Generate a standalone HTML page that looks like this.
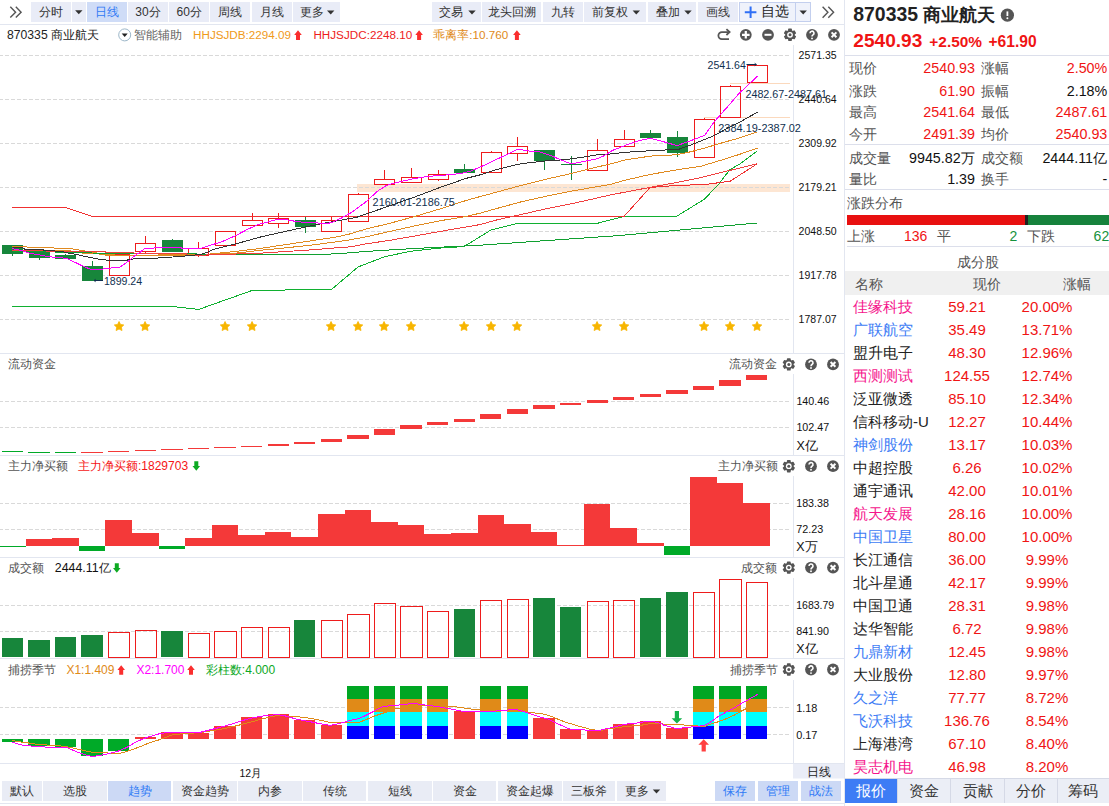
<!DOCTYPE html><html><head><meta charset="utf-8"><title>870335</title><style>
*{margin:0;padding:0;box-sizing:border-box}
html,body{width:1109px;height:806px;overflow:hidden;background:#fff}
body{position:relative;font-family:"Liberation Sans",sans-serif;color:#222}
svg text{font-family:"Liberation Sans",sans-serif}
.a{position:absolute;white-space:nowrap}
.b{position:absolute;top:2px;height:20px;line-height:20px;font-size:12px;background:#e9ecf7;color:#333;text-align:center;white-space:nowrap}
.b.s{background:#cfdcf7;color:#2f7af5}
.t{position:absolute;top:781px;height:20px;line-height:20px;font-size:12px;background:#e9ecf5;color:#333;text-align:center;white-space:nowrap}
.t.s{background:#ccd9f5;color:#2f7af5}
.r2{position:absolute;top:27px;height:16px;line-height:16px;font-size:12px;white-space:nowrap}
.pt{position:absolute;height:16px;line-height:16px;font-size:12px;color:#555;white-space:nowrap}
#rp{position:absolute;left:845px;top:0;width:264px;height:806px;overflow:hidden;background:#fff}
.k{position:absolute;font-size:14px;height:22px;line-height:22px;color:#555;white-space:nowrap}
.v{position:absolute;font-size:14.3px;height:22px;line-height:22px;text-align:right;white-space:nowrap;color:#f01414}
.row{position:absolute;left:0;width:264px;height:23px;line-height:23px;font-size:15px;white-space:nowrap}
.row>span{position:absolute;top:0}
.n{left:8px}.p{left:82px;width:80px;text-align:center;color:#f01414}.c{left:162px;width:80px;text-align:center;color:#f01414}
.pk{color:#f5148c}.bl{color:#3d7cf5}.bk{color:#222}
.bt{position:absolute;top:779px;height:24px;line-height:24px;font-size:15px;text-align:center;background:#ebeef6;color:#333;border-left:1px solid #d5d9e6}
</style></head><body>
<div class="b " style="left:31px;width:40px">分时</div>
<div class="b " style="left:72px;width:14px"></div>
<div class="b s" style="left:87px;width:40px">日线</div>
<div class="b " style="left:128px;width:40px">30分</div>
<div class="b " style="left:169.3px;width:40px">60分</div>
<div class="b " style="left:210.4px;width:40px">周线</div>
<div class="b " style="left:251.5px;width:40px">月线</div>
<div class="b " style="left:292.6px;width:47px"><span style="position:absolute;left:7.2px">更多</span></div>
<div class="b" style="left:431.6px;width:49.3px"><span style="position:absolute;left:7px">交易</span></div>
<div class="b" style="left:482px;width:59.4px">龙头回溯</div>
<div class="b" style="left:543.3px;width:39.6px">九转</div>
<div class="b" style="left:584.4px;width:61.6px"><span style="position:absolute;left:8px">前复权</span></div>
<div class="b" style="left:647.6px;width:48.9px"><span style="position:absolute;left:8.2px">叠加</span></div>
<div class="b" style="left:698px;width:40px">画线</div>
<div class="b" style="left:739px;width:56.5px;background:#eff2fb;border:1px solid #c3cfee;line-height:18px;font-size:13.5px;padding-left:16px;color:#222">自选</div>
<div class="b" style="left:795.5px;width:15.5px;background:#eff2fb;border:1px solid #c3cfee;border-left:none"></div>
<div class="r2" style="left:7px;color:#222"><span style="font-size:12.2px">870335</span></div>
<div class="r2" style="left:51.4px;color:#222">商业航天</div>
<div class="r2" style="left:134px;color:#666">智能辅助</div>
<div class="r2" style="left:193px;color:#f09a1a;font-size:11.7px">HHJSJDB:2294.09</div>
<div class="r2" style="left:313.4px;color:#ee1c1c;font-size:11.7px">HHJSJDC:2248.10</div>
<div class="r2" style="left:433.3px;color:#e08a18;font-size:11.7px"><span style="font-size:12px"><span style="display:inline-block;width:3em">乖离率</span></span>:10.760</div>
<div class="pt" style="left:8px;top:356px">流动资金</div>
<div class="pt" style="left:729px;top:356px">流动资金</div>
<div class="pt" style="left:8px;top:458px">主力净买额</div>
<div class="pt" style="left:78px;top:458px;color:#f51515"><span style="display:inline-block;width:5em">主力净买额</span>:1829703</div>
<div class="pt" style="left:717.5px;top:458px">主力净买额</div>
<div class="pt" style="left:8px;top:560px">成交额</div>
<div class="pt" style="left:54.8px;top:560px;color:#111;font-size:12.4px">2444.11<span style="display:inline-block;width:1em">亿</span></div>
<div class="pt" style="left:741px;top:560px">成交额</div>
<div class="pt" style="left:8px;top:662px">捕捞季节</div>
<div class="pt" style="left:66.4px;top:662px;color:#e08a18">X1:1.409</div>
<div class="pt" style="left:136.4px;top:662px;color:#ff00ff">X2:1.700</div>
<div class="pt" style="left:205.8px;top:662px;color:#0da825"><span style="display:inline-block;width:3em">彩柱数</span>:4.000</div>
<div class="pt" style="left:729.5px;top:662px">捕捞季节</div>
<div class="t " style="left:2px;width:40px">默认</div>
<div class="t " style="left:43.4px;width:63.4px">选股</div>
<div class="t s" style="left:107.8px;width:63.6px">趋势</div>
<div class="t " style="left:172.5px;width:64px">资金趋势</div>
<div class="t " style="left:238px;width:63.7px">内参</div>
<div class="t " style="left:303.2px;width:63.2px">传统</div>
<div class="t " style="left:367.6px;width:64px">短线</div>
<div class="t " style="left:433.2px;width:63.2px">资金</div>
<div class="t " style="left:497.5px;width:64px">资金起爆</div>
<div class="t " style="left:563px;width:52px">三板斧</div>
<div class="t " style="left:616.6px;width:49.6px"><span style="position:absolute;left:8px">更多</span></div>
<div class="t s" style="left:715.2px;width:39.6px">保存</div>
<div class="t s" style="left:758px;width:39.8px">管理</div>
<div class="t s" style="left:801px;width:40px">战法</div>
<svg class="a" style="left:0;top:0" width="845" height="806" viewBox="0 0 845 806"><line x1="0" y1="24.5" x2="845" y2="24.5" stroke="#e2e6f0" stroke-width="1" shape-rendering="crispEdges"/>
<line x1="844.5" y1="0" x2="844.5" y2="806" stroke="#e2e6f0" stroke-width="1" shape-rendering="crispEdges"/>
<line x1="793.5" y1="45" x2="793.5" y2="353" stroke="#e2e6f0" stroke-width="1" shape-rendering="crispEdges"/>
<line x1="793.5" y1="374" x2="793.5" y2="455" stroke="#e2e6f0" stroke-width="1" shape-rendering="crispEdges"/>
<line x1="793.5" y1="476" x2="793.5" y2="557" stroke="#e2e6f0" stroke-width="1" shape-rendering="crispEdges"/>
<line x1="793.5" y1="578" x2="793.5" y2="658" stroke="#e2e6f0" stroke-width="1" shape-rendering="crispEdges"/>
<line x1="793.5" y1="680" x2="793.5" y2="763" stroke="#e2e6f0" stroke-width="1" shape-rendering="crispEdges"/>
<line x1="0" y1="353.5" x2="845" y2="353.5" stroke="#e2e6f0" stroke-width="1" shape-rendering="crispEdges"/>
<line x1="0" y1="455.5" x2="845" y2="455.5" stroke="#e2e6f0" stroke-width="1" shape-rendering="crispEdges"/>
<line x1="0" y1="557.5" x2="845" y2="557.5" stroke="#e2e6f0" stroke-width="1" shape-rendering="crispEdges"/>
<line x1="0" y1="658.5" x2="845" y2="658.5" stroke="#e2e6f0" stroke-width="1" shape-rendering="crispEdges"/>
<line x1="0" y1="763.5" x2="845" y2="763.5" stroke="#e2e6f0" stroke-width="1" shape-rendering="crispEdges"/>
<line x1="0" y1="803.5" x2="845" y2="803.5" stroke="#e2e6f0" stroke-width="1" shape-rendering="crispEdges"/>
<rect x="357" y="184" width="433" height="8" fill="#fde6d3"/>
<line x1="0" y1="55.5" x2="789" y2="55.5" stroke="#d9d9d9" stroke-width="1" stroke-dasharray="4 2" stroke-dashoffset="1" shape-rendering="crispEdges"/>
<line x1="0" y1="99.5" x2="789" y2="99.5" stroke="#d9d9d9" stroke-width="1" stroke-dasharray="4 2" stroke-dashoffset="1" shape-rendering="crispEdges"/>
<line x1="0" y1="143.5" x2="789" y2="143.5" stroke="#d9d9d9" stroke-width="1" stroke-dasharray="4 2" stroke-dashoffset="1" shape-rendering="crispEdges"/>
<line x1="0" y1="187.5" x2="789" y2="187.5" stroke="#d9d9d9" stroke-width="1" stroke-dasharray="4 2" stroke-dashoffset="1" shape-rendering="crispEdges"/>
<line x1="0" y1="231.5" x2="789" y2="231.5" stroke="#d9d9d9" stroke-width="1" stroke-dasharray="4 2" stroke-dashoffset="1" shape-rendering="crispEdges"/>
<line x1="0" y1="275.5" x2="789" y2="275.5" stroke="#d9d9d9" stroke-width="1" stroke-dasharray="4 2" stroke-dashoffset="1" shape-rendering="crispEdges"/>
<line x1="0" y1="319.5" x2="789" y2="319.5" stroke="#d9d9d9" stroke-width="1" stroke-dasharray="4 2" stroke-dashoffset="1" shape-rendering="crispEdges"/>
<line x1="730" y1="83.5" x2="790" y2="83.5" stroke="#fbd9bd" stroke-width="1" shape-rendering="crispEdges"/>
<line x1="704" y1="117.5" x2="790" y2="117.5" stroke="#fbd9bd" stroke-width="1" shape-rendering="crispEdges"/>
<rect x="2" y="245" width="21" height="9" fill="#17863b" shape-rendering="crispEdges"/>
<line x1="12.5" y1="254" x2="12.5" y2="256" stroke="#17863b" stroke-width="1" shape-rendering="crispEdges"/>
<rect x="29" y="252" width="21" height="6" fill="#17863b" shape-rendering="crispEdges"/>
<line x1="39.5" y1="258" x2="39.5" y2="260" stroke="#17863b" stroke-width="1" shape-rendering="crispEdges"/>
<rect x="55" y="255" width="21" height="4" fill="#17863b" shape-rendering="crispEdges"/>
<line x1="65.5" y1="254" x2="65.5" y2="255" stroke="#17863b" stroke-width="1" shape-rendering="crispEdges"/>
<rect x="82" y="266" width="21" height="15" fill="#17863b" shape-rendering="crispEdges"/>
<line x1="92.5" y1="261" x2="92.5" y2="266" stroke="#17863b" stroke-width="1" shape-rendering="crispEdges"/>
<rect x="109.5" y="254.5" width="20" height="21" fill="none" stroke="#ee1c1c" stroke-width="1" shape-rendering="crispEdges"/>
<rect x="135.5" y="243.5" width="20" height="8" fill="none" stroke="#ee1c1c" stroke-width="1" shape-rendering="crispEdges"/>
<line x1="145.5" y1="236" x2="145.5" y2="243" stroke="#ee1c1c" stroke-width="1" shape-rendering="crispEdges"/>
<line x1="145.5" y1="252" x2="145.5" y2="253" stroke="#ee1c1c" stroke-width="1" shape-rendering="crispEdges"/>
<rect x="162" y="240" width="21" height="12" fill="#17863b" shape-rendering="crispEdges"/>
<line x1="172.5" y1="239" x2="172.5" y2="240" stroke="#17863b" stroke-width="1" shape-rendering="crispEdges"/>
<rect x="188.5" y="248.5" width="20" height="7" fill="none" stroke="#ee1c1c" stroke-width="1" shape-rendering="crispEdges"/>
<line x1="198.5" y1="242" x2="198.5" y2="248" stroke="#ee1c1c" stroke-width="1" shape-rendering="crispEdges"/>
<line x1="198.5" y1="256" x2="198.5" y2="257" stroke="#ee1c1c" stroke-width="1" shape-rendering="crispEdges"/>
<rect x="215.5" y="231.5" width="20" height="14" fill="none" stroke="#ee1c1c" stroke-width="1" shape-rendering="crispEdges"/>
<rect x="242.5" y="220.5" width="20" height="5" fill="none" stroke="#ee1c1c" stroke-width="1" shape-rendering="crispEdges"/>
<line x1="252.5" y1="213" x2="252.5" y2="220" stroke="#ee1c1c" stroke-width="1" shape-rendering="crispEdges"/>
<rect x="268.5" y="218.5" width="20" height="5" fill="none" stroke="#ee1c1c" stroke-width="1" shape-rendering="crispEdges"/>
<line x1="278.5" y1="213" x2="278.5" y2="218" stroke="#ee1c1c" stroke-width="1" shape-rendering="crispEdges"/>
<line x1="278.5" y1="224" x2="278.5" y2="228" stroke="#ee1c1c" stroke-width="1" shape-rendering="crispEdges"/>
<rect x="295" y="220" width="21" height="7" fill="#17863b" shape-rendering="crispEdges"/>
<line x1="305.5" y1="217" x2="305.5" y2="220" stroke="#17863b" stroke-width="1" shape-rendering="crispEdges"/>
<line x1="305.5" y1="227" x2="305.5" y2="233" stroke="#17863b" stroke-width="1" shape-rendering="crispEdges"/>
<rect x="321.5" y="220.5" width="20" height="11" fill="none" stroke="#ee1c1c" stroke-width="1" shape-rendering="crispEdges"/>
<line x1="331.5" y1="217" x2="331.5" y2="220" stroke="#ee1c1c" stroke-width="1" shape-rendering="crispEdges"/>
<rect x="348.5" y="194.5" width="20" height="27" fill="none" stroke="#ee1c1c" stroke-width="1" shape-rendering="crispEdges"/>
<line x1="358.5" y1="193" x2="358.5" y2="194" stroke="#ee1c1c" stroke-width="1" shape-rendering="crispEdges"/>
<rect x="374.5" y="179.5" width="20" height="5" fill="none" stroke="#ee1c1c" stroke-width="1" shape-rendering="crispEdges"/>
<line x1="384.5" y1="170" x2="384.5" y2="179" stroke="#ee1c1c" stroke-width="1" shape-rendering="crispEdges"/>
<rect x="401.5" y="177.5" width="20" height="5" fill="none" stroke="#ee1c1c" stroke-width="1" shape-rendering="crispEdges"/>
<line x1="411.5" y1="168" x2="411.5" y2="177" stroke="#ee1c1c" stroke-width="1" shape-rendering="crispEdges"/>
<rect x="428.5" y="174.5" width="20" height="5" fill="none" stroke="#ee1c1c" stroke-width="1" shape-rendering="crispEdges"/>
<line x1="438.5" y1="170" x2="438.5" y2="174" stroke="#ee1c1c" stroke-width="1" shape-rendering="crispEdges"/>
<line x1="438.5" y1="180" x2="438.5" y2="181" stroke="#ee1c1c" stroke-width="1" shape-rendering="crispEdges"/>
<rect x="454" y="169" width="21" height="4" fill="#17863b" shape-rendering="crispEdges"/>
<line x1="464.5" y1="164" x2="464.5" y2="169" stroke="#17863b" stroke-width="1" shape-rendering="crispEdges"/>
<rect x="481.5" y="152.5" width="20" height="20" fill="none" stroke="#ee1c1c" stroke-width="1" shape-rendering="crispEdges"/>
<line x1="491.5" y1="151" x2="491.5" y2="152" stroke="#ee1c1c" stroke-width="1" shape-rendering="crispEdges"/>
<rect x="507.5" y="146.5" width="20" height="7" fill="none" stroke="#ee1c1c" stroke-width="1" shape-rendering="crispEdges"/>
<line x1="517.5" y1="137" x2="517.5" y2="146" stroke="#ee1c1c" stroke-width="1" shape-rendering="crispEdges"/>
<line x1="517.5" y1="154" x2="517.5" y2="161" stroke="#ee1c1c" stroke-width="1" shape-rendering="crispEdges"/>
<rect x="534" y="150" width="21" height="11" fill="#17863b" shape-rendering="crispEdges"/>
<line x1="544.5" y1="161" x2="544.5" y2="170" stroke="#17863b" stroke-width="1" shape-rendering="crispEdges"/>
<rect x="561" y="164" width="21" height="1" fill="#17863b" shape-rendering="crispEdges"/>
<line x1="571.5" y1="156" x2="571.5" y2="164" stroke="#17863b" stroke-width="1" shape-rendering="crispEdges"/>
<line x1="571.5" y1="165" x2="571.5" y2="180" stroke="#17863b" stroke-width="1" shape-rendering="crispEdges"/>
<rect x="587.5" y="150.5" width="20" height="20" fill="none" stroke="#ee1c1c" stroke-width="1" shape-rendering="crispEdges"/>
<line x1="597.5" y1="139" x2="597.5" y2="150" stroke="#ee1c1c" stroke-width="1" shape-rendering="crispEdges"/>
<rect x="614.5" y="139.5" width="20" height="7" fill="none" stroke="#ee1c1c" stroke-width="1" shape-rendering="crispEdges"/>
<line x1="624.5" y1="130" x2="624.5" y2="139" stroke="#ee1c1c" stroke-width="1" shape-rendering="crispEdges"/>
<rect x="640" y="133" width="21" height="5" fill="#17863b" shape-rendering="crispEdges"/>
<line x1="650.5" y1="130" x2="650.5" y2="133" stroke="#17863b" stroke-width="1" shape-rendering="crispEdges"/>
<rect x="667" y="137" width="21" height="16" fill="#17863b" shape-rendering="crispEdges"/>
<line x1="677.5" y1="131" x2="677.5" y2="137" stroke="#17863b" stroke-width="1" shape-rendering="crispEdges"/>
<line x1="677.5" y1="153" x2="677.5" y2="157" stroke="#17863b" stroke-width="1" shape-rendering="crispEdges"/>
<rect x="694.5" y="119.5" width="20" height="38" fill="none" stroke="#ee1c1c" stroke-width="1" shape-rendering="crispEdges"/>
<line x1="704.5" y1="118" x2="704.5" y2="119" stroke="#ee1c1c" stroke-width="1" shape-rendering="crispEdges"/>
<rect x="720.5" y="86.5" width="20" height="31" fill="none" stroke="#ee1c1c" stroke-width="1" shape-rendering="crispEdges"/>
<line x1="730.5" y1="85" x2="730.5" y2="86" stroke="#ee1c1c" stroke-width="1" shape-rendering="crispEdges"/>
<rect x="747.5" y="65.5" width="20" height="17" fill="none" stroke="#ee1c1c" stroke-width="1" shape-rendering="crispEdges"/>
<polyline points="12.4,306.5 172.0,306.5 198.7,309.4 252.0,290.5 331.7,289.3 358.0,267.0 385.0,256.6 411.0,251.2 438.0,248.2 464.0,246.6 491.0,230.0 517.0,223.4 597.0,223.4 624.0,216.5 677.0,216.1 704.0,199.4 717.4,185.8 730.0,169.5 740.0,164.0 757.4,150.8" fill="none" stroke="#10b030" stroke-width="1" stroke-linejoin="round" shape-rendering="crispEdges"/>
<polyline points="12.4,207.5 65.6,207.5 92.2,216.4 624.0,216.4 650.0,187.5 677.0,185.4 704.0,184.6 730.0,181.3 757.4,163.7" fill="none" stroke="#f03030" stroke-width="1" stroke-linejoin="round" shape-rendering="crispEdges"/>
<polyline points="12.4,250.3 70.0,250.8 87.0,253.8 105.0,254.1 106.0,255.4 132.6,255.4 185.0,254.6 215.0,254.0 235.3,253.2 260.5,250.3 285.8,247.8 311.0,245.2 336.3,241.8 350.0,239.8 365.3,237.0 390.5,231.3 415.8,225.7 441.0,220.6 466.3,216.4 480.0,213.2 495.3,208.9 520.5,202.0 545.8,196.3 571.0,191.2 596.3,186.8 610.0,184.5 625.3,180.1 650.5,174.4 675.8,170.0 701.0,166.2 726.3,158.6 740.0,154.2 757.4,148.1" fill="none" stroke="#e08a20" stroke-width="1" stroke-linejoin="round" shape-rendering="crispEdges"/>
<polyline points="12.4,246.1 25.3,246.1 26.5,247.0 53.0,247.0 54.3,248.0 68.2,248.0 75.8,249.5 82.0,250.6 95.0,252.5 106.0,254.8 132.6,255.4 185.0,255.2 210.0,254.0 235.3,251.5 260.5,248.4 285.8,244.6 311.0,240.8 336.3,237.0 350.0,233.9 365.3,229.2 390.5,223.1 415.8,216.2 441.0,208.6 466.3,200.4 480.0,196.6 495.3,192.5 520.5,185.6 545.8,179.2 571.0,173.6 596.3,167.2 610.0,164.1 625.3,159.9 650.5,156.1 675.8,154.8 688.4,152.3 701.0,149.1 726.3,141.6 740.0,137.8 757.4,131.9" fill="none" stroke="#e08a20" stroke-width="1" stroke-linejoin="round" shape-rendering="crispEdges"/>
<polyline points="12.4,251.0 75.0,252.5 106.0,253.4 186.0,253.7 215.0,254.5 320.0,254.7 345.0,253.2 350.0,252.6 377.9,250.7 415.8,248.4 453.6,246.5 480.0,245.2 620.0,235.5 757.4,223.0" fill="none" stroke="#10a030" stroke-width="1" stroke-linejoin="round" shape-rendering="crispEdges"/>
<polyline points="12.4,250.5 90.0,251.7 105.0,251.7 106.0,252.7 133.0,252.7 135.6,253.4 186.0,253.4 188.0,255.2 200.0,255.2 239.0,253.9 260.5,253.2 285.8,251.5 311.0,249.9 336.3,247.8 350.0,246.9 365.3,244.0 390.5,240.2 415.8,235.8 441.0,231.3 466.3,226.9 480.0,224.6 495.3,220.3 520.5,214.6 545.8,208.9 571.0,203.9 596.3,198.2 610.0,195.0 625.3,192.1 650.5,187.3 675.8,182.6 701.0,177.6 726.3,171.2 740.0,168.1 757.4,163.7" fill="none" stroke="#f04040" stroke-width="1" stroke-linejoin="round" shape-rendering="crispEdges"/>
<polyline points="12.4,247.0 22.7,248.0 25.3,249.5 43.0,249.5 44.2,250.6 60.6,251.2 68.2,253.1 75.8,254.3 87.6,257.0 99.7,259.4 112.9,260.6 123.7,260.6 131.3,259.4 135.6,258.6 158.3,258.0 179.8,256.5 192.4,255.3 202.5,254.0 208.9,251.5 215.0,248.9 222.6,247.1 235.3,244.0 260.5,237.0 285.8,231.3 311.0,225.7 336.3,221.0 350.0,218.5 356.4,217.4 390.5,205.5 415.8,196.6 441.0,187.1 466.3,178.3 480.0,174.9 495.3,169.8 520.5,163.8 545.8,160.9 564.7,159.7 583.6,157.1 596.3,155.0 610.0,154.0 625.3,152.3 650.5,150.7 678.3,149.4 688.4,146.0 701.0,140.9 713.6,135.9 726.3,128.9 740.0,122.0 757.4,112.2" fill="none" stroke="#333" stroke-width="1" stroke-linejoin="round" shape-rendering="crispEdges"/>
<polyline points="12.4,248.7 20.2,250.3 30.3,253.3 50.5,256.9 66.9,258.4 80.8,265.1 90.9,269.5 98.5,269.5 109.8,268.2 120.0,267.0 127.5,261.9 135.1,255.4 140.0,252.4 144.4,248.7 163.4,247.4 178.5,247.4 184.9,248.7 198.7,248.9 208.9,245.8 222.6,241.4 235.3,235.8 247.9,229.2 258.0,224.6 268.1,221.9 278.2,219.1 285.8,219.6 298.4,221.9 311.0,222.5 323.6,223.4 331.2,222.9 341.3,218.1 352.6,211.8 365.3,202.3 377.9,190.9 386.7,185.3 400.6,181.5 415.8,178.3 428.4,176.4 447.3,174.9 460.0,173.6 470.0,171.4 482.6,166.0 495.3,160.0 507.9,154.0 517.3,149.2 520.5,149.6 526.8,150.8 540.7,152.1 552.0,155.9 561.0,160.0 571.0,163.8 577.3,162.8 596.3,159.0 603.8,155.9 612.6,150.4 625.3,145.4 637.9,140.9 650.5,138.4 663.1,141.6 677.0,145.6 688.4,141.6 704.8,135.3 713.6,122.6 721.2,113.8 730.0,104.0 738.9,93.6 757.4,76.3" fill="none" stroke="#ff00ff" stroke-width="1" stroke-linejoin="round" shape-rendering="crispEdges"/>
<polygon points="119.05,321.50 120.52,324.48 123.81,324.95 121.43,327.27 121.99,330.55 119.05,329.00 116.11,330.55 116.67,327.27 114.29,324.95 117.58,324.48" fill="#f7b500" stroke="#f7b500" stroke-width="0.8" stroke-linejoin="round"/>
<polygon points="145.05,321.50 146.52,324.48 149.81,324.95 147.43,327.27 147.99,330.55 145.05,329.00 142.11,330.55 142.67,327.27 140.29,324.95 143.58,324.48" fill="#f7b500" stroke="#f7b500" stroke-width="0.8" stroke-linejoin="round"/>
<polygon points="225.05,321.50 226.52,324.48 229.81,324.95 227.43,327.27 227.99,330.55 225.05,329.00 222.11,330.55 222.67,327.27 220.29,324.95 223.58,324.48" fill="#f7b500" stroke="#f7b500" stroke-width="0.8" stroke-linejoin="round"/>
<polygon points="252.05,321.50 253.52,324.48 256.81,324.95 254.43,327.27 254.99,330.55 252.05,329.00 249.11,330.55 249.67,327.27 247.29,324.95 250.58,324.48" fill="#f7b500" stroke="#f7b500" stroke-width="0.8" stroke-linejoin="round"/>
<polygon points="331.05,321.50 332.52,324.48 335.81,324.95 333.43,327.27 333.99,330.55 331.05,329.00 328.11,330.55 328.67,327.27 326.29,324.95 329.58,324.48" fill="#f7b500" stroke="#f7b500" stroke-width="0.8" stroke-linejoin="round"/>
<polygon points="358.05,321.50 359.52,324.48 362.81,324.95 360.43,327.27 360.99,330.55 358.05,329.00 355.11,330.55 355.67,327.27 353.29,324.95 356.58,324.48" fill="#f7b500" stroke="#f7b500" stroke-width="0.8" stroke-linejoin="round"/>
<polygon points="384.05,321.50 385.52,324.48 388.81,324.95 386.43,327.27 386.99,330.55 384.05,329.00 381.11,330.55 381.67,327.27 379.29,324.95 382.58,324.48" fill="#f7b500" stroke="#f7b500" stroke-width="0.8" stroke-linejoin="round"/>
<polygon points="411.05,321.50 412.52,324.48 415.81,324.95 413.43,327.27 413.99,330.55 411.05,329.00 408.11,330.55 408.67,327.27 406.29,324.95 409.58,324.48" fill="#f7b500" stroke="#f7b500" stroke-width="0.8" stroke-linejoin="round"/>
<polygon points="464.05,321.50 465.52,324.48 468.81,324.95 466.43,327.27 466.99,330.55 464.05,329.00 461.11,330.55 461.67,327.27 459.29,324.95 462.58,324.48" fill="#f7b500" stroke="#f7b500" stroke-width="0.8" stroke-linejoin="round"/>
<polygon points="491.05,321.50 492.52,324.48 495.81,324.95 493.43,327.27 493.99,330.55 491.05,329.00 488.11,330.55 488.67,327.27 486.29,324.95 489.58,324.48" fill="#f7b500" stroke="#f7b500" stroke-width="0.8" stroke-linejoin="round"/>
<polygon points="517.05,321.50 518.52,324.48 521.81,324.95 519.43,327.27 519.99,330.55 517.05,329.00 514.11,330.55 514.67,327.27 512.29,324.95 515.58,324.48" fill="#f7b500" stroke="#f7b500" stroke-width="0.8" stroke-linejoin="round"/>
<polygon points="597.05,321.50 598.52,324.48 601.81,324.95 599.43,327.27 599.99,330.55 597.05,329.00 594.11,330.55 594.67,327.27 592.29,324.95 595.58,324.48" fill="#f7b500" stroke="#f7b500" stroke-width="0.8" stroke-linejoin="round"/>
<polygon points="624.05,321.50 625.52,324.48 628.81,324.95 626.43,327.27 626.99,330.55 624.05,329.00 621.11,330.55 621.67,327.27 619.29,324.95 622.58,324.48" fill="#f7b500" stroke="#f7b500" stroke-width="0.8" stroke-linejoin="round"/>
<polygon points="704.05,321.50 705.52,324.48 708.81,324.95 706.43,327.27 706.99,330.55 704.05,329.00 701.11,330.55 701.67,327.27 699.29,324.95 702.58,324.48" fill="#f7b500" stroke="#f7b500" stroke-width="0.8" stroke-linejoin="round"/>
<polygon points="730.05,321.50 731.52,324.48 734.81,324.95 732.43,327.27 732.99,330.55 730.05,329.00 727.11,330.55 727.67,327.27 725.29,324.95 728.58,324.48" fill="#f7b500" stroke="#f7b500" stroke-width="0.8" stroke-linejoin="round"/>
<polygon points="757.05,321.50 758.52,324.48 761.81,324.95 759.43,327.27 759.99,330.55 757.05,329.00 754.11,330.55 754.67,327.27 752.29,324.95 755.58,324.48" fill="#f7b500" stroke="#f7b500" stroke-width="0.8" stroke-linejoin="round"/>
<text x="707.6" y="69" font-size="11" fill="#103050" text-anchor="start" textLength="38.2" lengthAdjust="spacingAndGlyphs">2541.64</text>
<path d="M746.5 64.5 H756.5 M754.7 63.3 L756.3 64.5 L754.7 65.7" stroke="#103050" stroke-width="1" fill="none"/>
<text x="745.4" y="98" font-size="11" fill="#103050" text-anchor="start" textLength="81.5" lengthAdjust="spacingAndGlyphs">2482.67-2487.61</text>
<text x="718.3" y="132" font-size="11" fill="#103050" text-anchor="start" textLength="82.6" lengthAdjust="spacingAndGlyphs">2384.19-2387.02</text>
<text x="372.6" y="205.7" font-size="11" fill="#103050" text-anchor="start" textLength="82.3" lengthAdjust="spacingAndGlyphs">2160.01-2186.75</text>
<text x="103.9" y="285" font-size="11" fill="#103050" text-anchor="start" textLength="38.2" lengthAdjust="spacingAndGlyphs">1899.24</text>
<path d="M94 280.5 H103 M95.6 279.3 L94 280.5 L95.6 281.7" stroke="#103050" stroke-width="1" fill="none"/>
<text x="798.6" y="59.3" font-size="11" fill="#111" text-anchor="start" textLength="38" lengthAdjust="spacingAndGlyphs">2571.35</text>
<text x="798.6" y="103.3" font-size="11" fill="#111" text-anchor="start" textLength="38" lengthAdjust="spacingAndGlyphs">2440.64</text>
<text x="798.6" y="147.3" font-size="11" fill="#111" text-anchor="start" textLength="38" lengthAdjust="spacingAndGlyphs">2309.92</text>
<text x="798.6" y="191.3" font-size="11" fill="#111" text-anchor="start" textLength="38" lengthAdjust="spacingAndGlyphs">2179.21</text>
<text x="798.6" y="235.3" font-size="11" fill="#111" text-anchor="start" textLength="38" lengthAdjust="spacingAndGlyphs">2048.50</text>
<text x="798.6" y="279.3" font-size="11" fill="#111" text-anchor="start" textLength="38" lengthAdjust="spacingAndGlyphs">1917.78</text>
<text x="798.6" y="323.3" font-size="11" fill="#111" text-anchor="start" textLength="38" lengthAdjust="spacingAndGlyphs">1787.07</text>
<line x1="0" y1="401.5" x2="789" y2="401.5" stroke="#d9d9d9" stroke-width="1" stroke-dasharray="4 2" stroke-dashoffset="1" shape-rendering="crispEdges"/>
<line x1="0" y1="427.5" x2="789" y2="427.5" stroke="#d9d9d9" stroke-width="1" stroke-dasharray="4 2" stroke-dashoffset="1" shape-rendering="crispEdges"/>
<rect x="2" y="451" width="21" height="1" fill="#00aa28" shape-rendering="crispEdges"/>
<rect x="28" y="452" width="22" height="1" fill="#00aa28" shape-rendering="crispEdges"/>
<rect x="55" y="452" width="21" height="1" fill="#00aa28" shape-rendering="crispEdges"/>
<rect x="81" y="452" width="22" height="1" fill="#f43939" shape-rendering="crispEdges"/>
<rect x="108" y="451" width="21" height="1" fill="#f43939" shape-rendering="crispEdges"/>
<rect x="135" y="450" width="21" height="1" fill="#f43939" shape-rendering="crispEdges"/>
<rect x="161" y="449" width="22" height="1" fill="#f43939" shape-rendering="crispEdges"/>
<rect x="188" y="448" width="21" height="1" fill="#f43939" shape-rendering="crispEdges"/>
<rect x="214" y="447" width="22" height="1" fill="#f43939" shape-rendering="crispEdges"/>
<rect x="241" y="446" width="21" height="1" fill="#f43939" shape-rendering="crispEdges"/>
<rect x="268" y="444" width="21" height="2" fill="#f43939" shape-rendering="crispEdges"/>
<rect x="294" y="442" width="21" height="2" fill="#f43939" shape-rendering="crispEdges"/>
<rect x="321" y="439" width="21" height="3" fill="#f43939" shape-rendering="crispEdges"/>
<rect x="347" y="435" width="22" height="4" fill="#f43939" shape-rendering="crispEdges"/>
<rect x="374" y="429" width="21" height="6" fill="#f43939" shape-rendering="crispEdges"/>
<rect x="400" y="425" width="22" height="4" fill="#f43939" shape-rendering="crispEdges"/>
<rect x="427" y="422" width="21" height="3" fill="#f43939" shape-rendering="crispEdges"/>
<rect x="454" y="419" width="21" height="3" fill="#f43939" shape-rendering="crispEdges"/>
<rect x="480" y="414" width="21" height="5" fill="#f43939" shape-rendering="crispEdges"/>
<rect x="507" y="409" width="21" height="5" fill="#f43939" shape-rendering="crispEdges"/>
<rect x="533" y="405" width="22" height="4" fill="#f43939" shape-rendering="crispEdges"/>
<rect x="560" y="403" width="21" height="2" fill="#f43939" shape-rendering="crispEdges"/>
<rect x="587" y="400" width="21" height="3" fill="#f43939" shape-rendering="crispEdges"/>
<rect x="613" y="397" width="21" height="3" fill="#f43939" shape-rendering="crispEdges"/>
<rect x="640" y="394" width="21" height="3" fill="#f43939" shape-rendering="crispEdges"/>
<rect x="666" y="390" width="22" height="4" fill="#f43939" shape-rendering="crispEdges"/>
<rect x="693" y="386" width="21" height="4" fill="#f43939" shape-rendering="crispEdges"/>
<rect x="719" y="380" width="22" height="6" fill="#f43939" shape-rendering="crispEdges"/>
<rect x="746" y="375" width="21" height="5" fill="#f43939" shape-rendering="crispEdges"/>
<text x="796.4" y="405.3" font-size="11" fill="#111" text-anchor="start" textLength="32.8" lengthAdjust="spacingAndGlyphs">140.46</text>
<text x="796.4" y="431.3" font-size="11" fill="#111" text-anchor="start" textLength="32.8" lengthAdjust="spacingAndGlyphs">102.47</text>
<text x="796.4" y="450" font-size="12.5" fill="#111" text-anchor="start">X亿</text>
<line x1="0" y1="503.5" x2="789" y2="503.5" stroke="#d9d9d9" stroke-width="1" stroke-dasharray="4 2" stroke-dashoffset="1" shape-rendering="crispEdges"/>
<line x1="0" y1="529.5" x2="789" y2="529.5" stroke="#d9d9d9" stroke-width="1" stroke-dasharray="4 2" stroke-dashoffset="1" shape-rendering="crispEdges"/>
<rect x="0" y="546" width="26" height="1" fill="#00aa28" shape-rendering="crispEdges"/>
<rect x="26" y="539.0" width="26" height="7.0" fill="#f43939" shape-rendering="crispEdges"/>
<rect x="52" y="538.0" width="27" height="8.0" fill="#f43939" shape-rendering="crispEdges"/>
<rect x="79" y="546" width="26" height="5.0" fill="#00aa28" shape-rendering="crispEdges"/>
<rect x="105" y="520.0" width="27" height="26.0" fill="#f43939" shape-rendering="crispEdges"/>
<rect x="132" y="533.0" width="27" height="13.0" fill="#f43939" shape-rendering="crispEdges"/>
<rect x="159" y="546" width="26" height="3.0" fill="#00aa28" shape-rendering="crispEdges"/>
<rect x="185" y="538.0" width="27" height="8.0" fill="#f43939" shape-rendering="crispEdges"/>
<rect x="212" y="525.0" width="26" height="21.0" fill="#f43939" shape-rendering="crispEdges"/>
<rect x="238" y="535.0" width="27" height="11.0" fill="#f43939" shape-rendering="crispEdges"/>
<rect x="265" y="532.0" width="26" height="14.0" fill="#f43939" shape-rendering="crispEdges"/>
<rect x="291" y="537.0" width="27" height="9.0" fill="#f43939" shape-rendering="crispEdges"/>
<rect x="318" y="514.0" width="27" height="32.0" fill="#f43939" shape-rendering="crispEdges"/>
<rect x="345" y="510.0" width="26" height="36.0" fill="#f43939" shape-rendering="crispEdges"/>
<rect x="371" y="522.0" width="27" height="24.0" fill="#f43939" shape-rendering="crispEdges"/>
<rect x="398" y="525.0" width="26" height="21.0" fill="#f43939" shape-rendering="crispEdges"/>
<rect x="424" y="534.0" width="27" height="12.0" fill="#f43939" shape-rendering="crispEdges"/>
<rect x="451" y="533.0" width="27" height="13.0" fill="#f43939" shape-rendering="crispEdges"/>
<rect x="478" y="515.0" width="26" height="31.0" fill="#f43939" shape-rendering="crispEdges"/>
<rect x="504" y="524.0" width="27" height="22.0" fill="#f43939" shape-rendering="crispEdges"/>
<rect x="531" y="532.0" width="26" height="14.0" fill="#f43939" shape-rendering="crispEdges"/>
<rect x="557" y="545.0" width="27" height="1.0" fill="#f43939" shape-rendering="crispEdges"/>
<rect x="584" y="504.0" width="26" height="42.0" fill="#f43939" shape-rendering="crispEdges"/>
<rect x="610" y="528.0" width="27" height="18.0" fill="#f43939" shape-rendering="crispEdges"/>
<rect x="637" y="543.0" width="27" height="3.0" fill="#f43939" shape-rendering="crispEdges"/>
<rect x="664" y="546" width="26" height="9.0" fill="#00aa28" shape-rendering="crispEdges"/>
<rect x="690" y="477.0" width="27" height="69.0" fill="#f43939" shape-rendering="crispEdges"/>
<rect x="717" y="483.0" width="26" height="63.0" fill="#f43939" shape-rendering="crispEdges"/>
<rect x="743" y="503.0" width="27" height="43.0" fill="#f43939" shape-rendering="crispEdges"/>
<text x="796.2" y="507.3" font-size="11" fill="#111" text-anchor="start" textLength="32.8" lengthAdjust="spacingAndGlyphs">183.38</text>
<text x="796.2" y="533.3" font-size="11" fill="#111" text-anchor="start" textLength="27" lengthAdjust="spacingAndGlyphs">72.23</text>
<text x="796.2" y="551" font-size="12.5" fill="#111" text-anchor="start">X万</text>
<line x1="0" y1="605.5" x2="789" y2="605.5" stroke="#d9d9d9" stroke-width="1" stroke-dasharray="4 2" stroke-dashoffset="1" shape-rendering="crispEdges"/>
<line x1="0" y1="631.5" x2="789" y2="631.5" stroke="#d9d9d9" stroke-width="1" stroke-dasharray="4 2" stroke-dashoffset="1" shape-rendering="crispEdges"/>
<rect x="2" y="638" width="21" height="19" fill="#17863b" shape-rendering="crispEdges"/>
<rect x="28" y="640" width="22" height="17" fill="#17863b" shape-rendering="crispEdges"/>
<rect x="55" y="637" width="21" height="20" fill="#17863b" shape-rendering="crispEdges"/>
<rect x="81" y="635" width="22" height="22" fill="#17863b" shape-rendering="crispEdges"/>
<rect x="108.5" y="632.5" width="21" height="25.0" fill="none" stroke="#ee1c1c" stroke-width="1" shape-rendering="crispEdges"/>
<rect x="135.5" y="630.5" width="21" height="27.0" fill="none" stroke="#ee1c1c" stroke-width="1" shape-rendering="crispEdges"/>
<rect x="161" y="631" width="22" height="26" fill="#17863b" shape-rendering="crispEdges"/>
<rect x="188.5" y="633.5" width="21" height="24.0" fill="none" stroke="#ee1c1c" stroke-width="1" shape-rendering="crispEdges"/>
<rect x="214.5" y="631.5" width="22" height="26.0" fill="none" stroke="#ee1c1c" stroke-width="1" shape-rendering="crispEdges"/>
<rect x="241.5" y="627.5" width="21" height="30.0" fill="none" stroke="#ee1c1c" stroke-width="1" shape-rendering="crispEdges"/>
<rect x="268.5" y="627.5" width="21" height="30.0" fill="none" stroke="#ee1c1c" stroke-width="1" shape-rendering="crispEdges"/>
<rect x="294" y="620" width="21" height="37" fill="#17863b" shape-rendering="crispEdges"/>
<rect x="321.5" y="620.5" width="21" height="37.0" fill="none" stroke="#ee1c1c" stroke-width="1" shape-rendering="crispEdges"/>
<rect x="347.5" y="614.5" width="22" height="43.0" fill="none" stroke="#ee1c1c" stroke-width="1" shape-rendering="crispEdges"/>
<rect x="374.5" y="603.5" width="21" height="54.0" fill="none" stroke="#ee1c1c" stroke-width="1" shape-rendering="crispEdges"/>
<rect x="400.5" y="606.5" width="22" height="51.0" fill="none" stroke="#ee1c1c" stroke-width="1" shape-rendering="crispEdges"/>
<rect x="427.5" y="611.5" width="21" height="46.0" fill="none" stroke="#ee1c1c" stroke-width="1" shape-rendering="crispEdges"/>
<rect x="454" y="609" width="21" height="48" fill="#17863b" shape-rendering="crispEdges"/>
<rect x="480.5" y="600.5" width="21" height="57.0" fill="none" stroke="#ee1c1c" stroke-width="1" shape-rendering="crispEdges"/>
<rect x="507.5" y="599.5" width="21" height="58.0" fill="none" stroke="#ee1c1c" stroke-width="1" shape-rendering="crispEdges"/>
<rect x="533" y="598" width="22" height="59" fill="#17863b" shape-rendering="crispEdges"/>
<rect x="560" y="607" width="21" height="50" fill="#17863b" shape-rendering="crispEdges"/>
<rect x="587.5" y="601.5" width="21" height="56.0" fill="none" stroke="#ee1c1c" stroke-width="1" shape-rendering="crispEdges"/>
<rect x="613.5" y="600.5" width="21" height="57.0" fill="none" stroke="#ee1c1c" stroke-width="1" shape-rendering="crispEdges"/>
<rect x="640" y="598" width="21" height="59" fill="#17863b" shape-rendering="crispEdges"/>
<rect x="666" y="592" width="22" height="65" fill="#17863b" shape-rendering="crispEdges"/>
<rect x="693.5" y="592.5" width="21" height="65.0" fill="none" stroke="#ee1c1c" stroke-width="1" shape-rendering="crispEdges"/>
<rect x="719.5" y="579.5" width="22" height="78.0" fill="none" stroke="#ee1c1c" stroke-width="1" shape-rendering="crispEdges"/>
<rect x="746.5" y="582.5" width="21" height="75.0" fill="none" stroke="#ee1c1c" stroke-width="1" shape-rendering="crispEdges"/>
<text x="796.2" y="609.3" font-size="11" fill="#111" text-anchor="start" textLength="38" lengthAdjust="spacingAndGlyphs">1683.79</text>
<text x="796.2" y="635.2" font-size="11" fill="#111" text-anchor="start" textLength="32.8" lengthAdjust="spacingAndGlyphs">841.90</text>
<text x="796.2" y="653" font-size="12.5" fill="#111" text-anchor="start">X亿</text>
<line x1="0" y1="707.5" x2="789" y2="707.5" stroke="#d9d9d9" stroke-width="1" stroke-dasharray="4 2" stroke-dashoffset="1" shape-rendering="crispEdges"/>
<line x1="0" y1="734.5" x2="789" y2="734.5" stroke="#d9d9d9" stroke-width="1" stroke-dasharray="4 2" stroke-dashoffset="1" shape-rendering="crispEdges"/>
<rect x="2" y="739" width="21" height="3" fill="#00aa28" shape-rendering="crispEdges"/>
<rect x="28" y="739" width="22" height="7" fill="#00aa28" shape-rendering="crispEdges"/>
<rect x="55" y="739" width="21" height="8" fill="#00aa28" shape-rendering="crispEdges"/>
<rect x="81" y="739" width="22" height="17" fill="#00aa28" shape-rendering="crispEdges"/>
<rect x="108" y="739" width="21" height="12" fill="#00aa28" shape-rendering="crispEdges"/>
<rect x="135" y="737" width="21" height="2" fill="#f43939" shape-rendering="crispEdges"/>
<rect x="161" y="732" width="22" height="7" fill="#f43939" shape-rendering="crispEdges"/>
<rect x="188" y="733" width="21" height="6" fill="#f43939" shape-rendering="crispEdges"/>
<rect x="214" y="726" width="22" height="13" fill="#f43939" shape-rendering="crispEdges"/>
<rect x="241" y="717" width="21" height="22" fill="#f43939" shape-rendering="crispEdges"/>
<rect x="268" y="714" width="21" height="25" fill="#f43939" shape-rendering="crispEdges"/>
<rect x="294" y="720" width="21" height="19" fill="#f43939" shape-rendering="crispEdges"/>
<rect x="321" y="725" width="21" height="14" fill="#f43939" shape-rendering="crispEdges"/>
<g shape-rendering="crispEdges"><rect x="347" y="686" width="22" height="13" fill="#00a623"/><rect x="347" y="699" width="22" height="13" fill="#e08a18"/><rect x="347" y="712" width="22" height="14" fill="#00ffff"/><rect x="347" y="726" width="22" height="13" fill="#0000ff"/></g>
<g shape-rendering="crispEdges"><rect x="374" y="686" width="21" height="13" fill="#00a623"/><rect x="374" y="699" width="21" height="13" fill="#e08a18"/><rect x="374" y="712" width="21" height="14" fill="#00ffff"/><rect x="374" y="726" width="21" height="13" fill="#0000ff"/></g>
<g shape-rendering="crispEdges"><rect x="400" y="686" width="22" height="13" fill="#00a623"/><rect x="400" y="699" width="22" height="13" fill="#e08a18"/><rect x="400" y="712" width="22" height="14" fill="#00ffff"/><rect x="400" y="726" width="22" height="13" fill="#0000ff"/></g>
<g shape-rendering="crispEdges"><rect x="427" y="686" width="21" height="13" fill="#00a623"/><rect x="427" y="699" width="21" height="13" fill="#e08a18"/><rect x="427" y="712" width="21" height="14" fill="#00ffff"/><rect x="427" y="726" width="21" height="13" fill="#0000ff"/></g>
<rect x="454" y="711" width="21" height="28" fill="#f43939" shape-rendering="crispEdges"/>
<g shape-rendering="crispEdges"><rect x="480" y="686" width="21" height="13" fill="#00a623"/><rect x="480" y="699" width="21" height="13" fill="#e08a18"/><rect x="480" y="712" width="21" height="14" fill="#00ffff"/><rect x="480" y="726" width="21" height="13" fill="#0000ff"/></g>
<g shape-rendering="crispEdges"><rect x="507" y="686" width="21" height="13" fill="#00a623"/><rect x="507" y="699" width="21" height="13" fill="#e08a18"/><rect x="507" y="712" width="21" height="14" fill="#00ffff"/><rect x="507" y="726" width="21" height="13" fill="#0000ff"/></g>
<rect x="533" y="718" width="22" height="21" fill="#f43939" shape-rendering="crispEdges"/>
<rect x="560" y="729" width="21" height="10" fill="#f43939" shape-rendering="crispEdges"/>
<rect x="587" y="730" width="21" height="9" fill="#f43939" shape-rendering="crispEdges"/>
<rect x="613" y="724" width="21" height="15" fill="#f43939" shape-rendering="crispEdges"/>
<rect x="640" y="721" width="21" height="18" fill="#f43939" shape-rendering="crispEdges"/>
<rect x="666" y="728" width="22" height="11" fill="#f43939" shape-rendering="crispEdges"/>
<g shape-rendering="crispEdges"><rect x="693" y="686" width="21" height="13" fill="#00a623"/><rect x="693" y="699" width="21" height="13" fill="#e08a18"/><rect x="693" y="712" width="21" height="14" fill="#00ffff"/><rect x="693" y="726" width="21" height="13" fill="#0000ff"/></g>
<g shape-rendering="crispEdges"><rect x="719" y="686" width="22" height="13" fill="#00a623"/><rect x="719" y="699" width="22" height="13" fill="#e08a18"/><rect x="719" y="712" width="22" height="14" fill="#00ffff"/><rect x="719" y="726" width="22" height="13" fill="#0000ff"/></g>
<g shape-rendering="crispEdges"><rect x="746" y="686" width="21" height="13" fill="#00a623"/><rect x="746" y="699" width="21" height="13" fill="#e08a18"/><rect x="746" y="712" width="21" height="14" fill="#00ffff"/><rect x="746" y="726" width="21" height="13" fill="#0000ff"/></g>
<polyline points="12.0,740.4 16.4,741.4 27.8,742.9 36.6,744.2 46.7,745.0 58.0,745.5 68.2,747.0 75.8,748.7 85.9,750.9 91.0,752.1 104.8,752.5 111.0,753.4 120.0,753.4 126.3,751.5 133.8,749.0 140.0,746.7 147.6,743.6 160.3,739.4 172.9,734.7 185.5,733.5 200.7,732.6 210.8,730.9 223.4,728.8 236.0,725.9 248.6,722.7 261.3,719.2 270.0,717.1 277.6,715.3 288.9,716.3 297.8,716.8 307.9,718.0 318.0,719.7 330.6,722.6 358.4,722.6 366.0,719.7 374.8,715.9 386.2,712.1 396.3,708.7 400.0,708.3 412.0,706.0 425.0,705.0 438.0,705.5 447.9,706.2 455.5,706.7 468.1,708.7 478.2,709.9 491.0,710.6 503.5,710.8 517.0,710.5 528.1,712.1 537.6,713.4 545.0,714.2 552.6,717.0 565.3,722.1 577.9,725.9 590.5,729.3 599.3,730.6 608.2,729.0 618.3,727.5 628.4,726.3 641.0,725.3 651.1,723.4 661.2,723.4 664.3,724.7 668.4,724.2 683.6,724.2 684.5,725.5 697.2,725.5 699.7,726.6 705.6,726.6 706.2,725.5 709.6,724.5 712.7,723.5 716.1,722.5 725.1,719.2 734.1,715.2 741.3,711.1 745.8,708.9" fill="none" stroke="#e08a18" stroke-width="1" stroke-linejoin="round" shape-rendering="crispEdges"/>
<polyline points="12.0,742.0 16.4,743.7 22.7,745.2 36.6,746.5 53.0,747.5 67.0,747.5 75.8,751.5 85.9,755.0 92.2,756.6 101.0,755.3 109.8,753.4 117.4,751.5 126.3,747.7 133.8,743.3 140.0,740.2 147.6,737.2 160.3,733.5 170.4,732.2 200.7,732.2 210.8,729.7 223.4,726.5 236.0,722.7 248.6,718.7 261.3,716.2 270.0,715.3 277.6,714.6 285.2,715.9 295.3,718.8 307.9,721.3 320.5,723.8 330.6,725.4 340.7,723.1 350.8,720.3 358.4,718.8 366.0,715.3 374.8,710.8 383.6,706.4 396.3,705.2 405.0,704.5 412.6,703.3 423.9,704.9 436.6,706.4 449.2,708.7 461.8,711.2 474.4,711.5 493.4,711.2 506.0,710.2 514.8,709.2 523.7,711.5 531.3,714.0 540.0,717.0 547.6,718.9 555.2,722.7 565.3,727.1 570.3,729.3 582.9,729.3 586.7,730.6 598.1,730.6 608.2,728.4 618.3,725.9 628.4,723.7 637.2,723.0 646.1,721.5 653.6,721.7 661.2,723.7 664.3,725.5 668.4,726.4 672.4,727.5 676.1,728.6 681.7,728.6 682.3,727.5 690.7,727.5 691.3,726.4 699.7,726.4 700.3,725.5 704.7,725.5 705.9,724.5 708.4,723.6 710.9,721.6 714.0,719.6 718.3,716.5 726.9,711.6 734.1,708.0 743.1,702.5 752.1,697.6 757.7,694.2" fill="none" stroke="#ff00ff" stroke-width="1" stroke-linejoin="round" shape-rendering="crispEdges"/>
<path d="M674.8 711 h4.2 v7.2 h3.2 l-5.3 5.4 l-5.3 -5.4 h3.2 z" fill="#14b24b"/>
<path d="M701.6 751.5 h4.2 v-6.8 h3.2 l-5.3 -5.5 l-5.3 5.5 h3.2 z" fill="#ff4040"/>
<text x="796.2" y="711.8" font-size="11" fill="#111" text-anchor="start" textLength="21.2" lengthAdjust="spacingAndGlyphs">1.18</text>
<text x="796.2" y="739.3" font-size="11" fill="#111" text-anchor="start" textLength="21.2" lengthAdjust="spacingAndGlyphs">0.17</text>
<rect x="793" y="764" width="51" height="14.5" fill="#eaedf7"/>
<text x="807" y="775.6" font-size="12" fill="#222" text-anchor="start">日线</text>
<text x="239.5" y="777.2" font-size="11" fill="#111" text-anchor="start" textLength="22" lengthAdjust="spacingAndGlyphs">12月</text><g transform="translate(724.1,34.8)"><path d="M4.9 4.3H-2.2a3.5 3.5 0 0 1 0 -7H4.4" stroke="#555" stroke-width="1.8" fill="none"/><path d="M2.3 -5.6L5.5 -2.7L2.3 0.2" stroke="#555" stroke-width="1.8" fill="none"/></g><g transform="translate(745.8,34.8)"><circle r="5.9" fill="#555"/><path d="M-3.8 0H3.8M0 -3.8V3.8" stroke="#fff" stroke-width="2.2"/></g><g transform="translate(768,34.8)"><circle r="5.9" fill="#555"/><path d="M-3.5 0H3.5" stroke="#fff" stroke-width="2"/></g><g transform="translate(790,34.8)"><rect x="-1.9" y="-6.2" width="3.8" height="2.8" rx="0.7" fill="#555" transform="rotate(0)"/><rect x="-1.9" y="-6.2" width="3.8" height="2.8" rx="0.7" fill="#555" transform="rotate(60)"/><rect x="-1.9" y="-6.2" width="3.8" height="2.8" rx="0.7" fill="#555" transform="rotate(120)"/><rect x="-1.9" y="-6.2" width="3.8" height="2.8" rx="0.7" fill="#555" transform="rotate(180)"/><rect x="-1.9" y="-6.2" width="3.8" height="2.8" rx="0.7" fill="#555" transform="rotate(240)"/><rect x="-1.9" y="-6.2" width="3.8" height="2.8" rx="0.7" fill="#555" transform="rotate(300)"/><circle r="4.8" fill="#555"/><circle r="2.9" fill="#fff"/><circle r="1.5" fill="#555"/></g><g transform="translate(812,34.8)"><circle r="5.9" fill="#555"/><path d="M-2 -1.6a2 2 0 1 1 3 1.7c-0.8 0.5 -1 0.8 -1 1.7" stroke="#fff" stroke-width="1.6" fill="none"/><circle cx="0" cy="3.6" r="0.95" fill="#fff"/></g><g transform="translate(834,34.8)"><circle r="5.9" fill="#555"/><path d="M-2.4 -2.4L2.4 2.4M2.4 -2.4L-2.4 2.4" stroke="#fff" stroke-width="2"/></g><g transform="translate(788.8,364.4)"><rect x="-1.9" y="-6.2" width="3.8" height="2.8" rx="0.7" fill="#555" transform="rotate(0)"/><rect x="-1.9" y="-6.2" width="3.8" height="2.8" rx="0.7" fill="#555" transform="rotate(60)"/><rect x="-1.9" y="-6.2" width="3.8" height="2.8" rx="0.7" fill="#555" transform="rotate(120)"/><rect x="-1.9" y="-6.2" width="3.8" height="2.8" rx="0.7" fill="#555" transform="rotate(180)"/><rect x="-1.9" y="-6.2" width="3.8" height="2.8" rx="0.7" fill="#555" transform="rotate(240)"/><rect x="-1.9" y="-6.2" width="3.8" height="2.8" rx="0.7" fill="#555" transform="rotate(300)"/><circle r="4.8" fill="#555"/><circle r="2.9" fill="#fff"/><circle r="1.5" fill="#555"/></g><g transform="translate(811,364.4)"><circle r="5.9" fill="#555"/><path d="M-2 -1.6a2 2 0 1 1 3 1.7c-0.8 0.5 -1 0.8 -1 1.7" stroke="#fff" stroke-width="1.6" fill="none"/><circle cx="0" cy="3.6" r="0.95" fill="#fff"/></g><g transform="translate(833,364.4)"><circle r="5.9" fill="#555"/><path d="M-2.4 -2.4L2.4 2.4M2.4 -2.4L-2.4 2.4" stroke="#fff" stroke-width="2"/></g><g transform="translate(788.8,466.2)"><rect x="-1.9" y="-6.2" width="3.8" height="2.8" rx="0.7" fill="#555" transform="rotate(0)"/><rect x="-1.9" y="-6.2" width="3.8" height="2.8" rx="0.7" fill="#555" transform="rotate(60)"/><rect x="-1.9" y="-6.2" width="3.8" height="2.8" rx="0.7" fill="#555" transform="rotate(120)"/><rect x="-1.9" y="-6.2" width="3.8" height="2.8" rx="0.7" fill="#555" transform="rotate(180)"/><rect x="-1.9" y="-6.2" width="3.8" height="2.8" rx="0.7" fill="#555" transform="rotate(240)"/><rect x="-1.9" y="-6.2" width="3.8" height="2.8" rx="0.7" fill="#555" transform="rotate(300)"/><circle r="4.8" fill="#555"/><circle r="2.9" fill="#fff"/><circle r="1.5" fill="#555"/></g><g transform="translate(811,466.2)"><circle r="5.9" fill="#555"/><path d="M-2 -1.6a2 2 0 1 1 3 1.7c-0.8 0.5 -1 0.8 -1 1.7" stroke="#fff" stroke-width="1.6" fill="none"/><circle cx="0" cy="3.6" r="0.95" fill="#fff"/></g><g transform="translate(833,466.2)"><circle r="5.9" fill="#555"/><path d="M-2.4 -2.4L2.4 2.4M2.4 -2.4L-2.4 2.4" stroke="#fff" stroke-width="2"/></g><g transform="translate(788.8,567.6)"><rect x="-1.9" y="-6.2" width="3.8" height="2.8" rx="0.7" fill="#555" transform="rotate(0)"/><rect x="-1.9" y="-6.2" width="3.8" height="2.8" rx="0.7" fill="#555" transform="rotate(60)"/><rect x="-1.9" y="-6.2" width="3.8" height="2.8" rx="0.7" fill="#555" transform="rotate(120)"/><rect x="-1.9" y="-6.2" width="3.8" height="2.8" rx="0.7" fill="#555" transform="rotate(180)"/><rect x="-1.9" y="-6.2" width="3.8" height="2.8" rx="0.7" fill="#555" transform="rotate(240)"/><rect x="-1.9" y="-6.2" width="3.8" height="2.8" rx="0.7" fill="#555" transform="rotate(300)"/><circle r="4.8" fill="#555"/><circle r="2.9" fill="#fff"/><circle r="1.5" fill="#555"/></g><g transform="translate(811,567.6)"><circle r="5.9" fill="#555"/><path d="M-2 -1.6a2 2 0 1 1 3 1.7c-0.8 0.5 -1 0.8 -1 1.7" stroke="#fff" stroke-width="1.6" fill="none"/><circle cx="0" cy="3.6" r="0.95" fill="#fff"/></g><g transform="translate(833,567.6)"><circle r="5.9" fill="#555"/><path d="M-2.4 -2.4L2.4 2.4M2.4 -2.4L-2.4 2.4" stroke="#fff" stroke-width="2"/></g><g transform="translate(788.8,669.5)"><rect x="-1.9" y="-6.2" width="3.8" height="2.8" rx="0.7" fill="#555" transform="rotate(0)"/><rect x="-1.9" y="-6.2" width="3.8" height="2.8" rx="0.7" fill="#555" transform="rotate(60)"/><rect x="-1.9" y="-6.2" width="3.8" height="2.8" rx="0.7" fill="#555" transform="rotate(120)"/><rect x="-1.9" y="-6.2" width="3.8" height="2.8" rx="0.7" fill="#555" transform="rotate(180)"/><rect x="-1.9" y="-6.2" width="3.8" height="2.8" rx="0.7" fill="#555" transform="rotate(240)"/><rect x="-1.9" y="-6.2" width="3.8" height="2.8" rx="0.7" fill="#555" transform="rotate(300)"/><circle r="4.8" fill="#555"/><circle r="2.9" fill="#fff"/><circle r="1.5" fill="#555"/></g><g transform="translate(811,669.5)"><circle r="5.9" fill="#555"/><path d="M-2 -1.6a2 2 0 1 1 3 1.7c-0.8 0.5 -1 0.8 -1 1.7" stroke="#fff" stroke-width="1.6" fill="none"/><circle cx="0" cy="3.6" r="0.95" fill="#fff"/></g><g transform="translate(833,669.5)"><circle r="5.9" fill="#555"/><path d="M-2.4 -2.4L2.4 2.4M2.4 -2.4L-2.4 2.4" stroke="#fff" stroke-width="2"/></g><path d="M296 39.9h4v-4.9h1.8l-3.8 -4.7l-3.8 4.7h1.8z" fill="#fa2e2e"/><path d="M417.1 39.9h4v-4.9h1.8l-3.8 -4.7l-3.8 4.7h1.8z" fill="#fa2e2e"/><path d="M514.9 39.9h4v-4.9h1.8l-3.8 -4.7l-3.8 4.7h1.8z" fill="#fa2e2e"/><path d="M194.3 461.2h4v4.7h1.8l-3.8 4.9l-3.8 -4.9h1.8z" fill="#0daa22"/><path d="M114.8 563.2h4v4.7h1.8l-3.8 4.9l-3.8 -4.9h1.8z" fill="#0daa22"/><path d="M119.2 674.8h4v-4.9h1.8l-3.8 -4.7l-3.8 4.7h1.8z" fill="#fa2e2e"/><path d="M189 674.8h4v-4.9h1.8l-3.8 -4.7l-3.8 4.7h1.8z" fill="#fa2e2e"/><g transform="translate(124.7,34.9)"><circle r="6" fill="#fff" stroke="#9db7c9" stroke-width="1"/><path d="M-3 -1.3H3L0 2.2z" fill="#222"/></g><path d="M10.3 6.8L15.6 12.2L10.3 17.6M15.8 6.8L21.1 12.2L15.8 17.6" stroke="#555" stroke-width="1.4" fill="none"/><path d="M822.6 6.8L827.9 12.3L822.6 17.8M828.3 6.8L833.6 12.3L828.3 17.8" stroke="#555" stroke-width="1.4" fill="none"/><path d="M75.1 10.299999999999999h7.4l-3.7 4z" fill="#333"/><path d="M327.0 10.6h7.4l-3.7 4z" fill="#333"/><path d="M468.3 10.6h7.4l-3.7 4z" fill="#333"/><path d="M632.5999999999999 10.6h7.4l-3.7 4z" fill="#333"/><path d="M684.3 10.6h7.4l-3.7 4z" fill="#333"/><path d="M799.5 10.6h7.4l-3.7 4z" fill="#333"/><path d="M652.8 789.6h7.4l-3.7 4z" fill="#333"/><path d="M744.8 12.2H756.4M750.6 6.4V18" stroke="#2f6ff5" stroke-width="2"/></svg>
<div id="rp">
<div class="a" style="left:8.3px;top:2px;height:24px;line-height:24px;font-weight:bold;color:#222"><span style="font-size:19.4px">870335</span><span style="font-size:17.6px"> 商业航天</span></div>
<svg class="a" style="left:155px;top:8px" width="15" height="15"><circle cx="7.4" cy="7.2" r="6.6" fill="#555"/><path d="M7.4 3.4V8" stroke="#fff" stroke-width="1.8"/><circle cx="7.4" cy="10.3" r="1" fill="#fff"/></svg>
<div class="a" style="left:8.3px;top:29px;height:24px;line-height:24px;font-weight:bold;color:#f01414"><span style="font-size:19.1px">2540.93</span><span style="font-size:15.4px;margin-left:7px">+2.50%</span><span style="font-size:15.6px;margin-left:6.5px">+61.90</span></div>
<div class="a" style="left:0;top:55px;width:264px;height:1px;background:#dcdfeb"></div>
<div class="k" style="left:4.2px;top:57.400000000000006px">现价</div><div class="v" style="left:30px;width:100px;top:57.400000000000006px;color:#f01414">2540.93</div>
<div class="k" style="left:136.4px;top:57.400000000000006px">涨幅</div><div class="v" style="left:162.3px;width:100px;top:57.400000000000006px;color:#f01414">2.50%</div>
<div class="k" style="left:4.2px;top:79.5px">涨跌</div><div class="v" style="left:30px;width:100px;top:79.5px;color:#f01414">61.90</div>
<div class="k" style="left:136.4px;top:79.5px">振幅</div><div class="v" style="left:162.3px;width:100px;top:79.5px;color:#111">2.18%</div>
<div class="k" style="left:4.2px;top:101.4px">最高</div><div class="v" style="left:30px;width:100px;top:101.4px;color:#f01414">2541.64</div>
<div class="k" style="left:136.4px;top:101.4px">最低</div><div class="v" style="left:162.3px;width:100px;top:101.4px;color:#f01414">2487.61</div>
<div class="k" style="left:4.2px;top:123.19999999999999px">今开</div><div class="v" style="left:30px;width:100px;top:123.19999999999999px;color:#f01414">2491.39</div>
<div class="k" style="left:136.4px;top:123.19999999999999px">均价</div><div class="v" style="left:162.3px;width:100px;top:123.19999999999999px;color:#f01414">2540.93</div>
<div class="k" style="left:4.2px;top:146.6px">成交量</div><div class="v" style="left:30px;width:100px;top:146.6px;color:#111">9945.82<span style="display:inline-block;width:1em">万</span></div>
<div class="k" style="left:136.4px;top:146.6px">成交额</div><div class="v" style="left:162.3px;width:100px;top:146.6px;color:#111">2444.11<span style="display:inline-block;width:1em">亿</span></div>
<div class="k" style="left:4.2px;top:168.4px">量比</div><div class="v" style="left:30px;width:100px;top:168.4px;color:#111">1.39</div>
<div class="k" style="left:136.4px;top:168.4px">换手</div><div class="v" style="left:162.3px;width:100px;top:168.4px;color:#111">-</div>
<div class="a" style="left:0;top:144px;width:264px;height:1px;background:#dcdfeb"></div>
<div class="a" style="left:0;top:189px;width:264px;height:1px;background:#dcdfeb"></div>
<div class="k" style="left:2px;top:193.2px;font-size:13.6px">涨跌分布</div>
<div class="a" style="left:2px;top:215px;width:178px;height:10px;background:#e81010"></div>
<div class="a" style="left:180px;top:215px;width:3px;height:10px;background:#222"></div>
<div class="a" style="left:183px;top:215px;width:81px;height:10px;background:#16823c"></div>
<div class="k" style="left:2px;top:224.7px">上涨</div><div class="k" style="left:59px;top:224.7px;color:#f01414">136</div><div class="k" style="left:92.3px;top:224.7px">平</div>
<div class="k" style="left:164.5px;top:224.7px;color:#16923c">2</div><div class="k" style="left:182px;top:224.7px">下跌</div><div class="k" style="left:248.6px;top:224.7px;color:#16923c">62</div>
<div class="a" style="left:2px;top:246px;width:262px;height:1px;background:#dcdfeb"></div>
<div class="k" style="left:111.7px;top:250.8px">成分股</div>
<div class="a" style="left:0;top:271px;width:264px;height:24px;background:#f0f0f0"></div>
<div class="k" style="left:9.9px;top:273px">名称</div><div class="k" style="left:128.3px;top:273px">现价</div><div class="k" style="left:217.8px;top:273px">涨幅</div>
<div class="row" style="top:295.1px"><span class="n pk">佳缘科技</span><span class="p">59.21</span><span class="c">20.00%</span></div>
<div class="row" style="top:318.1px"><span class="n bl">广联航空</span><span class="p">35.49</span><span class="c">13.71%</span></div>
<div class="row" style="top:341.1px"><span class="n bk">盟升电子</span><span class="p">48.30</span><span class="c">12.96%</span></div>
<div class="row" style="top:364.1px"><span class="n pk">西测测试</span><span class="p">124.55</span><span class="c">12.74%</span></div>
<div class="row" style="top:387.1px"><span class="n bk">泛亚微透</span><span class="p">85.10</span><span class="c">12.34%</span></div>
<div class="row" style="top:410.1px"><span class="n bk"><span style="display:inline-block;width:4em">信科移动</span>-U</span><span class="p">12.27</span><span class="c">10.44%</span></div>
<div class="row" style="top:433.1px"><span class="n bl">神剑股份</span><span class="p">13.17</span><span class="c">10.03%</span></div>
<div class="row" style="top:456.1px"><span class="n bk">中超控股</span><span class="p">6.26</span><span class="c">10.02%</span></div>
<div class="row" style="top:479.1px"><span class="n bk">通宇通讯</span><span class="p">42.00</span><span class="c">10.01%</span></div>
<div class="row" style="top:502.1px"><span class="n pk">航天发展</span><span class="p">28.16</span><span class="c">10.00%</span></div>
<div class="row" style="top:525.1px"><span class="n bl">中国卫星</span><span class="p">80.00</span><span class="c">10.00%</span></div>
<div class="row" style="top:548.1px"><span class="n bk">长江通信</span><span class="p">36.00</span><span class="c">9.99%</span></div>
<div class="row" style="top:571.1px"><span class="n bk">北斗星通</span><span class="p">42.17</span><span class="c">9.99%</span></div>
<div class="row" style="top:594.1px"><span class="n bk">中国卫通</span><span class="p">28.31</span><span class="c">9.98%</span></div>
<div class="row" style="top:617.1px"><span class="n bk">达华智能</span><span class="p">6.72</span><span class="c">9.98%</span></div>
<div class="row" style="top:640.1px"><span class="n bl">九鼎新材</span><span class="p">12.45</span><span class="c">9.98%</span></div>
<div class="row" style="top:663.1px"><span class="n bk">大业股份</span><span class="p">12.80</span><span class="c">9.97%</span></div>
<div class="row" style="top:686.1px"><span class="n bl">久之洋</span><span class="p">77.77</span><span class="c">8.72%</span></div>
<div class="row" style="top:709.1px"><span class="n bl">飞沃科技</span><span class="p">136.76</span><span class="c">8.54%</span></div>
<div class="row" style="top:732.1px"><span class="n bk">上海港湾</span><span class="p">67.10</span><span class="c">8.40%</span></div>
<div class="row" style="top:755.1px"><span class="n pk">昊志机电</span><span class="p">46.98</span><span class="c">8.20%</span></div>
<div class="a" style="left:0;top:778px;width:264px;height:1px;background:#d5d9e6"></div>
<div class="bt" style="left:0px;width:52px;background:#3d7cf5;color:#fff;border-left:none;">报价</div>
<div class="bt" style="left:52px;width:53.4px;">资金</div>
<div class="bt" style="left:105.4px;width:53.3px;">贡献</div>
<div class="bt" style="left:158.7px;width:52.9px;">分价</div>
<div class="bt" style="left:211.6px;width:52.4px;">筹码</div>
</div>
</body></html>
